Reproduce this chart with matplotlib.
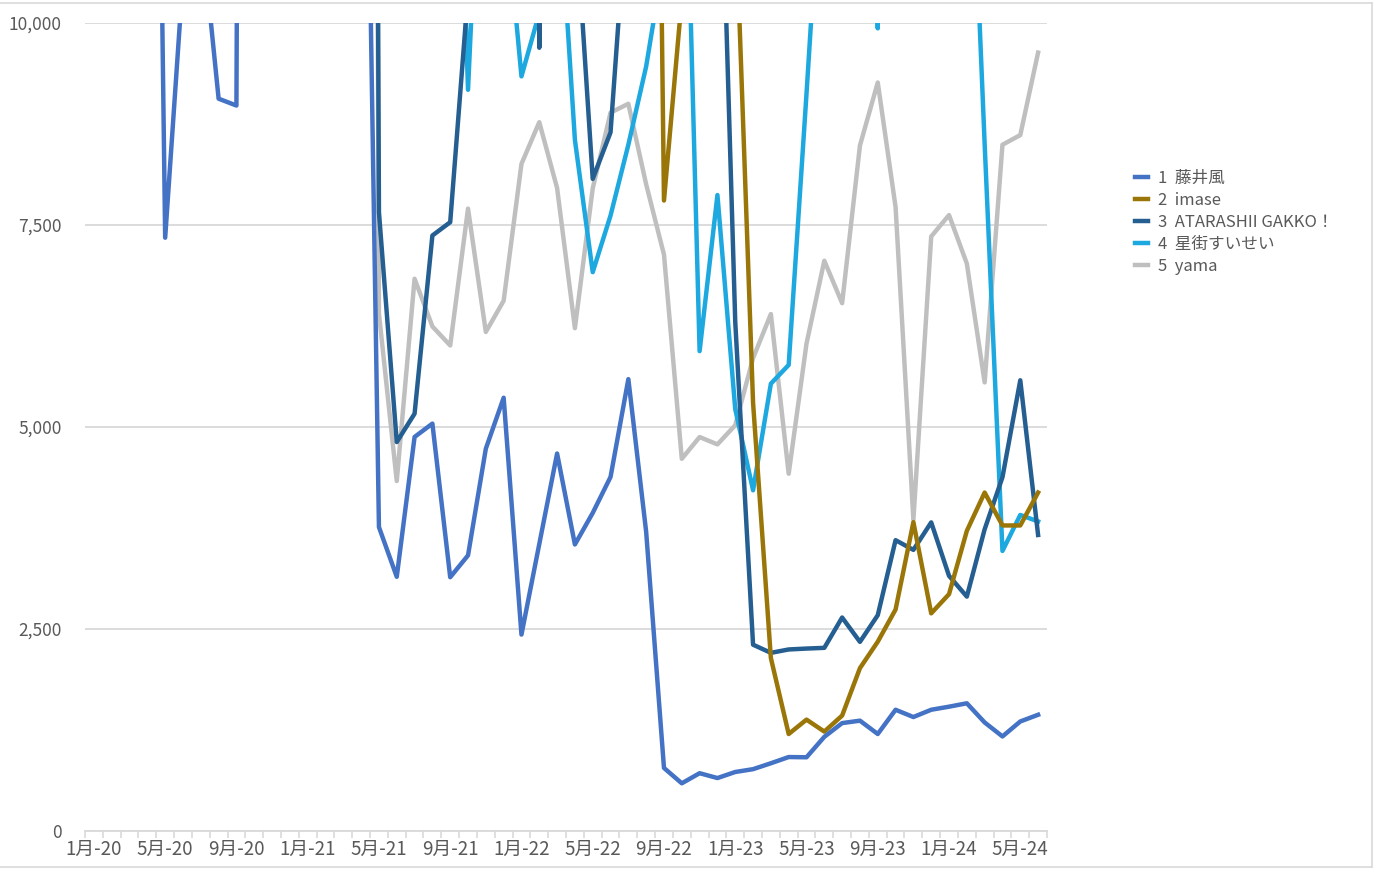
import matplotlib
matplotlib.use('Agg')
import matplotlib.pyplot as plt
import numpy as np

plt.rcParams['font.family'] = ['Noto Sans CJK JP', 'DejaVu Sans']

# monthly categories Jan-2020 .. Jun-2024
months = [f'{m}月-{y}' for y in range(20, 25) for m in range(1, 13)][:54]
tick_labels = ['1月-20', '5月-20', '9月-20', '1月-21', '5月-21', '9月-21', '1月-22',
               '5月-22', '9月-22', '1月-23', '5月-23', '9月-23', '1月-24', '5月-24']

N = None
# values above 10,000 are off the chart (only their slope into the plot is visible)
fujii_kaze = [N, N, N, 24000, 7340, 10560, 11240, 9060, 8975, 60000,
              N, N, N, N, N, 17500, 3760, 3145, 4875, 5040,
              3140, 3410, 4730, 5360, 2430, 3550, 4670, 3545, 3935, 4380,
              5590, 3700, 780, 590, 715, 655, 730, 765, 838, 915,
              912, 1165, 1335, 1365, 1200, 1500, 1410, 1500, 1538, 1580,
              1343, 1170, 1355, 1438]
imase = [N] * 31 + [26000, 7800, 10300, N, N, 11500, 5300, 2140, 1200,
                    1378, 1230, 1428, 2015, 2342, 2740, 3821, 2693, 2930, 3713,
                    4187, 3780, 3780, 4187]
atarashii = [N] * 15 + [60000, 7655, 4812, 5163, 7367,
                        7532, 10370, N, N, 60000, 9690, 50000, 11460, 8068, 8644,
                        11720, N, N, N, N, 13700, 6300, 2305, 2204, 2246,
                        2257, 2266, 2641, 2340, 2670, 3598, 3478, 3818, 3157, 2900,
                        3733, 4377, 5576, 3662]
suisei = [N] * 20 + [16000, 9170, 14000, 11700, 9336, 10120, 12000, 8550, 6914, 7614,
                     8490, 9460, 10800, 14200, 5937, 7868, 5220, 4215, 5534, 5766,
                     9120, 12600, N, 60000, 9930, 60000, N, N, N, 13800,
                     8500, 3465, 3910, 3830]
yama = [N] * 15 + [60000, 6400, 4330, 6832, 6242,
                   6007, 7700, 6174, 6560, 8253, 8769, 7955, 6221, 7950, 8887,
                   8997, 8000, 7130, 4605, 4874, 4783, 5020, 5850, 6395, 4420,
                   6030, 7055, 6530, 8480, 9260, 7720, 3850, 7355, 7620, 7020,
                   5550, 8490, 8610, 9630]

series = [('1  藤井風', fujii_kaze, '#4472C4'),
          ('2  imase', imase, '#9A7508'),
          ('3  ATARASHII GAKKO！', atarashii, '#255E91'),
          ('4  星街すいせい', suisei, '#1DA8E0'),
          ('5  yama', yama, '#BFBFBF')]

W, H = 1376, 871
fig = plt.figure(figsize=(W / 100, H / 100), dpi=100)
ax = fig.add_axes([85 / W, 1 - 831 / H, (1047 - 85) / W, (831 - 22.7) / H])

x = np.arange(len(months))
# draw in reverse so series 1 ends on top
for label, vals, color in series[::-1]:
    y = np.array([np.nan if v is None else v for v in vals], dtype=float)
    ax.plot(x, y, color=color, lw=3.2, label=label, solid_joinstyle='round')

ax.set_xlim(-0.5, len(months) - 0.5)
ax.set_ylim(0, 10000)
ax.set_yticks([0, 2500, 5000, 7500, 10000])
ax.set_yticklabels(['0', '2,500', '5,000', '7,500', '10,000'])
ax.set_xticks(np.arange(0, len(months), 4))
ax.set_xticklabels(tick_labels)
ax.set_xticks(np.arange(-0.5, len(months), 1), minor=True)

ax.tick_params(axis='x', which='major', length=0, pad=6, labelsize=13.5, labelcolor='#595959')
ax.tick_params(axis='x', which='minor', length=5, width=1.2, color='#D9D9D9')
ax.tick_params(axis='y', length=0, pad=17, labelsize=12.5, labelcolor='#595959')

ax.grid(axis='y', color='#D9D9D9', lw=1.3)
ax.set_axisbelow(True)
for s in ['top', 'right', 'left']:
    ax.spines[s].set_visible(False)
ax.spines['bottom'].set_color('#D9D9D9')
ax.spines['bottom'].set_linewidth(1.3)

handles, labels = ax.get_legend_handles_labels()
fig.legend(handles[::-1], labels[::-1], loc='upper left',
           bbox_to_anchor=(1120 / W, 1 - 155 / H), frameon=False,
           fontsize=12, handlelength=0.8, handletextpad=0.6, labelspacing=0.3,
           labelcolor='#595959')

# chart frame
fc = '#D9D9D9'
fig.add_artist(plt.Line2D([0, 1372 / W], [1 - 3 / H, 1 - 3 / H], color=fc, lw=1.2))
fig.add_artist(plt.Line2D([1372 / W, 1372 / W], [1 - 3 / H, 1 - 867 / H], color=fc, lw=1.2))
fig.add_artist(plt.Line2D([0, 1372 / W], [1 - 867 / H, 1 - 867 / H], color=fc, lw=1.2))

fig.savefig('out.png', dpi=100)
